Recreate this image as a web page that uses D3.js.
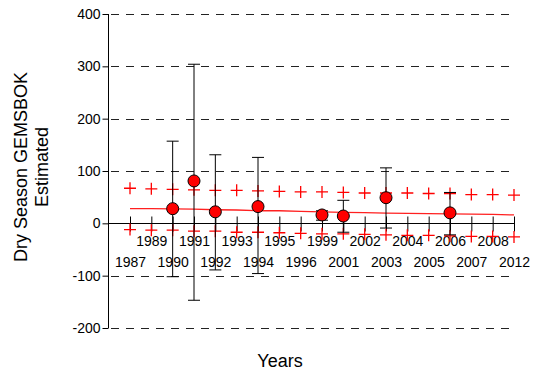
<!DOCTYPE html>
<html>
<head>
<meta charset="utf-8">
<script src="https://cdn.jsdelivr.net/npm/d3@7"></script>
<style>
  html, body { margin: 0; padding: 0; background: #fff; }
  svg { display: block; }
  text { font-family: "Liberation Sans", Arial, Helvetica, sans-serif; fill: #000; }
</style>
</head>
<body>
<svg id="chart" width="535" height="378"></svg>
<script>
// Survey years shown on the x axis
const years = ["1987","1989","1990","1991","1992","1993","1994","1995","1996",
               "1999","2001","2002","2003","2004","2005","2006","2007","2008","2012"];

// Years with a population estimate, the estimate and its confidence limits
const estYears  = ["1990","1991","1992","1994","1999","2001","2003","2006"];
const estimates = [28, 81, 22, 32, 16, 14, 49, 20];
const ciLower   = [-102, -147, -89, -96, 6, -17, -9, -22];
const ciUpper   = [157, 304, 131, 126, 24, 44, 106, 59];

// Fitted trend and its upper / lower prediction bounds for every year
const trend     = [28, 28, 27.5, 27, 26, 25.5, 24, 24, 23, 22, 21, 20.5, 19.5, 19, 18.5, 18, 17.5, 17, 16];
const predUpper = [67, 66, 65, 64, 63, 63, 62, 61, 60, 60, 59, 58, 58, 58, 57, 57, 55, 55, 54];
const predLower = [-12, -13, -13, -15, -15, -17, -17, -18, -19, -20, -20, -21, -22, -23, -23, -24, -25, -25, -26];

// Y tick values
const yTicks = [-200, -100, 0, 100, 200, 300, 400];

const svg = d3.select("#chart");
const left = 108, right = 514;

const x = d3.scalePoint().domain(years).range([130, right]);
const y = d3.scaleLinear().domain([-200, 400]).range([328, 14]);

// dashed horizontal grid
svg.append("g")
  .selectAll("line")
  .data(yTicks.filter(d => d !== 0))
  .join("line")
  .attr("x1", left + 3).attr("x2", right)
  .attr("y1", d => Math.round(y(d)) + 0.5).attr("y2", d => Math.round(y(d)) + 0.5)
  .attr("stroke", "#222").attr("stroke-width", 1)
  .attr("stroke-dasharray", "8,7");

// y axis
const yAxis = svg.append("g")
  .attr("transform", `translate(${left + 0.5},0)`)
  .call(d3.axisLeft(y).tickValues(yTicks).tickSize(6).tickPadding(2)
          .tickFormat(d => String(d)));
yAxis.select(".domain").attr("d", `M0,${y(400)}V${y(-200)}`).attr("stroke", "#000");
yAxis.selectAll(".tick line").attr("stroke", "#000");
yAxis.selectAll(".tick text").attr("font-size", 14)
  .style("font-family", "'Liberation Sans', Arial, sans-serif");

// x axis along the zero line
const y0 = Math.round(y(0)) + 0.5;
const xAxis = svg.append("g")
  .attr("transform", `translate(0,${y0})`)
  .call(d3.axisBottom(x).tickSize(8).tickPadding(0));
xAxis.select(".domain").remove();
xAxis.append("line").attr("x1", left).attr("x2", right).attr("y1", 0).attr("y2", 0)
  .attr("stroke", "#000");
xAxis.selectAll(".tick line").attr("y1", -7).attr("y2", 8).attr("stroke", "#000");
xAxis.selectAll(".tick text")
  .attr("font-size", 14)
  .style("font-family", "'Liberation Sans', Arial, sans-serif")
  .attr("dy", null)
  .attr("y", (d, i) => i % 2 === 0 ? 43 : 22);

// prediction bounds drawn as red crosses
const crossData = years.flatMap((yr, i) => [
  { yr, v: predUpper[i] }, { yr, v: predLower[i] }
]);
const cross = svg.append("g").attr("stroke", "#ff0000").attr("stroke-width", 1.3);
cross.selectAll("path")
  .data(crossData)
  .join("path")
  .attr("d", d => {
    const cx = x(d.yr), cy = y(d.v), s = 6;
    return `M${cx - s},${cy}H${cx + s}M${cx},${cy - s}V${cy + s}`;
  })
  .attr("fill", "none");

// fitted trend line
svg.append("path")
  .datum(years.map((yr, i) => [x(yr), y(trend[i])]))
  .attr("d", d3.line())
  .attr("fill", "none")
  .attr("stroke", "#ff2020")
  .attr("stroke-width", 1.3);

// confidence intervals
const est = estYears.map((yr, i) => ({ yr, v: estimates[i], lo: ciLower[i], hi: ciUpper[i] }));
const bars = svg.append("g").attr("stroke", "#000").attr("stroke-width", 1).attr("fill", "none");
bars.selectAll("path")
  .data(est)
  .join("path")
  .attr("d", d => {
    const cx = x(d.yr), c = 6;
    return `M${cx},${y(d.hi)}V${y(d.lo)}` +
           `M${cx - c},${y(d.hi)}H${cx + c}` +
           `M${cx - c},${y(d.lo)}H${cx + c}`;
  });

// point estimates
svg.append("g")
  .selectAll("circle")
  .data(est)
  .join("circle")
  .attr("cx", d => x(d.yr))
  .attr("cy", d => y(d.v))
  .attr("r", 6)
  .attr("fill", "#ff0000")
  .attr("stroke", "#000")
  .attr("stroke-width", 1);

// axis titles
svg.append("text")
  .attr("x", 280).attr("y", 367)
  .attr("text-anchor", "middle")
  .attr("font-size", 18)
  .text("Years");

const yl = svg.append("text")
  .attr("transform", "translate(27,167) rotate(-90)")
  .attr("text-anchor", "middle")
  .attr("font-size", 18);
yl.append("tspan").attr("x", 0).attr("y", 0).text("Dry Season GEMSBOK");
yl.append("tspan").attr("x", 0).attr("y", 21).text("Estimated");
</script>
</body>
</html>
